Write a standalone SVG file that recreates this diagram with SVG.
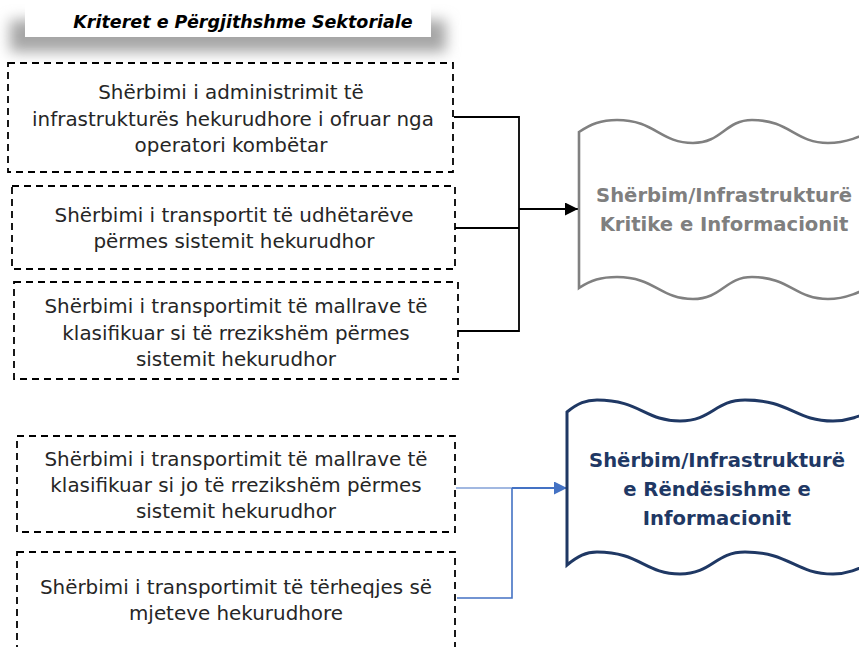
<svg xmlns="http://www.w3.org/2000/svg" width="859" height="647" viewBox="0 0 859 647">
<style>
.box{fill:#fff;stroke:#000;stroke-width:1.8;stroke-dasharray:7 5}
.t{font-family:"DejaVu Sans",sans-serif;font-size:19.9px;fill:#262626;text-anchor:middle}
.h{font-family:"DejaVu Sans",sans-serif;font-size:19.6px;font-weight:bold;text-anchor:middle}
.k{fill:none;stroke:#000;stroke-width:1.8}
.b{fill:none;stroke:#4472C4}
</style>
<defs>
<filter id="sh" x="-20%" y="-100%" width="140%" height="300%"><feGaussianBlur stdDeviation="7"/></filter>
<marker id="ak" markerUnits="userSpaceOnUse" markerWidth="14" markerHeight="14" refX="13" refY="6.5" orient="auto"><path d="M0,0 L13,6.5 L0,13 Z" fill="#000"/></marker>
<marker id="ab" markerUnits="userSpaceOnUse" markerWidth="14" markerHeight="14" refX="13" refY="6.5" orient="auto"><path d="M0,0 L13,6.5 L0,13 Z" fill="#4472C4"/></marker>
</defs>
<g id="title">
<rect x="10" y="20" width="436" height="32" fill="#a6a6a6" filter="url(#sh)"/>
<rect x="25" y="0" width="406" height="37" fill="#fff"/>
<text x="243" y="28" font-family="DejaVu Sans,sans-serif" font-size="17.5" font-weight="bold" font-style="italic" text-anchor="middle" fill="#000">Kriteret e Përgjithshme Sektoriale</text>
</g>
<g id="connectors">
<path class="k" d="M454,117 H519 V331 H458 M455,228 H519"/>
<path class="k" d="M519,209 H578" marker-end="url(#ak)"/>
<path class="b" stroke-width="1.2" d="M456,488 H512"/>
<path class="b" stroke-width="2.2" d="M512,488 H567" marker-end="url(#ab)"/>
<path class="b" stroke-width="1.6" d="M512,488 V598 H457"/>
</g>
<g id="n1">
<rect class="box" x="8" y="63" width="445" height="109"/>
<text class="t" x="231" y="99">Shërbimi i administrimit të</text>
<text class="t" x="233" y="126">infrastrukturës hekurudhore i ofruar nga</text>
<text class="t" x="231" y="152">operatori kombëtar</text>
</g>
<g id="n2">
<rect class="box" x="12" y="186" width="443" height="83"/>
<text class="t" x="234" y="222">Shërbimi i transportit të udhëtarëve</text>
<text class="t" x="234" y="248">përmes sistemit hekurudhor</text>
</g>
<g id="n3">
<rect class="box" x="14" y="282" width="444" height="97"/>
<text class="t" x="236" y="313">Shërbimi i transportimit të mallrave të</text>
<text class="t" x="236" y="340">klasifikuar si të rrezikshëm përmes</text>
<text class="t" x="236" y="366">sistemit hekurudhor</text>
</g>
<g id="n4">
<rect class="box" x="17" y="436" width="438" height="96"/>
<text class="t" x="236" y="466">Shërbimi i transportimit të mallrave të</text>
<text class="t" x="236" y="492">klasifikuar si jo të rrezikshëm përmes</text>
<text class="t" x="236" y="518">sistemit hekurudhor</text>
</g>
<g id="n5">
<rect class="box" x="17" y="552" width="438" height="110"/>
<text class="t" x="236" y="594">Shërbimi i transportimit të tërheqjes së</text>
<text class="t" x="236" y="620">mjeteve hekurudhore</text>
</g>
<g id="critical">
<path d="M579,132 C591,124 601,120 617,120 C655,120 660,143 693,143 C722,143 725,120 752,120 C790,120 795,143 828,143 C846,143 860,137 878,128 L878,283 C860,292 846,299 828,299 C795,299 790,277 752,277 C725,277 722,299 693,299 C660,299 655,277 617,277 C601,277 591,280 579,288 Z" fill="#fff" stroke="#808080" stroke-width="2.6"/>
<text class="h" x="724" y="202" fill="#7f7f7f">Shërbim/Infrastrukturë</text>
<text class="h" x="724" y="231" fill="#7f7f7f">Kritike e Informacionit</text>
</g>
<g id="important">
<path d="M567,412 C578,403 586,400 597,400 C640,400 645,421 680,421 C712,421 715,400 745,400 C790,400 795,421 833,421 C850,421 862,415 878,408 L878,560 C862,567 850,574 833,574 C795,574 790,552 745,552 C715,552 712,574 680,574 C645,574 640,552 597,552 C586,552 578,556 567,565 Z" fill="#fff" stroke="#1F3864" stroke-width="3"/>
<text class="h" x="717" y="467" fill="#1F3864">Shërbim/Infrastrukturë</text>
<text class="h" x="717" y="496" fill="#1F3864">e Rëndësishme e</text>
<text class="h" x="717" y="525" fill="#1F3864">Informacionit</text>
</g>
</svg>
